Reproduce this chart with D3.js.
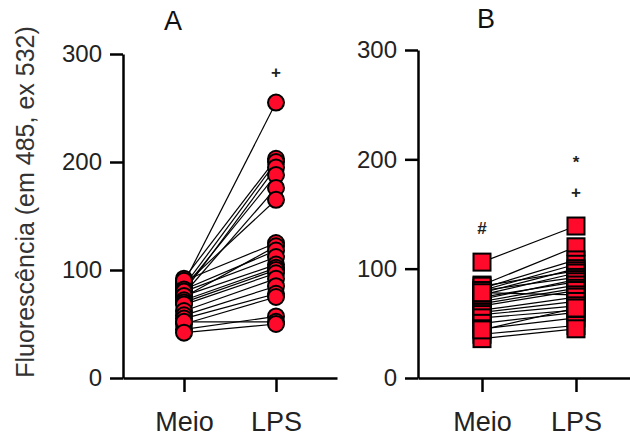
<!DOCTYPE html>
<html><head><meta charset="utf-8">
<script src="https://cdn.jsdelivr.net/npm/d3@7"></script>
<style>
html,body{margin:0;padding:0;background:#fff;}
svg{display:block;font-family:Arial,"Liberation Sans",sans-serif;}
</style></head>
<body>
<svg id="chart" width="630" height="436"></svg>
<script>
const categories = ["Meio", "LPS"];
const yTicks = [0, 100, 200, 300];
const panelTitles = ["A", "B"];
const yLabel = "Fluorescência (em 485, ex 532)";

// Panel A: paired values (Meio, LPS)
const aMeio = [88, 92, 85, 80, 83, 78, 86, 90, 75, 82, 80, 76, 72, 70, 68, 62, 58, 55, 50, 45, 52, 42];
const aLPS  = [255, 203, 200, 195, 188, 176, 165, 125, 122, 118, 112, 105, 102, 100, 97, 92, 85, 78, 75, 57, 52, 50];

// Panel B: paired values (Meio, LPS)
const bMeio = [106, 85, 82, 80, 78, 84, 76, 80, 72, 74, 70, 68, 66, 78, 62, 60, 58, 55, 50, 45, 40, 36, 44];
const bLPS  = [139, 120, 108, 104, 100, 98, 96, 92, 90, 88, 85, 82, 80, 76, 74, 70, 66, 62, 60, 55, 48, 45, 64];

// Annotations: [category, value, symbol]
const aNotes = [["LPS", 283, "+"]];
const bNotes = [["Meio", 137, "#"], ["LPS", 170, "+"], ["LPS", 197, "*"]];

const svg = d3.select("#chart");
const RED = "#ff0a2a";

function panel(cfg) {
  const g = svg.append("g");
  const y = d3.scaleLinear().domain([0, 300]).range([cfg.y0, cfg.y300]);
  const x = d3.scalePoint().domain(categories).range([cfg.xl, cfg.xr]).padding(cfg.pad);

  // y axis
  const ya = g.append("g").attr("transform", `translate(${cfg.xl},0)`)
    .call(d3.axisLeft(y).tickValues(yTicks).tickSize(13).tickSizeOuter(0).tickPadding(8));
  ya.select(".domain").attr("stroke-width", 2.5);
  ya.selectAll(".tick line").attr("stroke-width", 2.5);
  ya.selectAll(".tick text").attr("font-size", 24).attr("fill", "#222").attr("font-family", "Arial,'Liberation Sans',sans-serif");

  // x axis
  const xa = g.append("g").attr("transform", `translate(0,${cfg.y0})`)
    .call(d3.axisBottom(x).tickSize(14).tickSizeOuter(0).tickPadding(20));
  xa.select(".domain").attr("stroke-width", 2.5);
  xa.selectAll(".tick line").attr("stroke-width", 2.5);
  xa.selectAll(".tick text").attr("font-size", 27).attr("fill", "#222").attr("font-family", "Arial,'Liberation Sans',sans-serif");

  // lines
  const pairs = cfg.meio.map((m, i) => [m, cfg.lps[i]]);
  g.append("g").selectAll("line").data(pairs).join("line")
    .attr("x1", x("Meio")).attr("x2", x("LPS"))
    .attr("y1", d => y(d[0])).attr("y2", d => y(d[1]))
    .attr("stroke", "#000").attr("stroke-width", 1.2);

  // markers
  const pts = [];
  categories.forEach(c => (c === "Meio" ? cfg.meio : cfg.lps).forEach(v => pts.push([c, v])));
  const mg = g.append("g");
  if (cfg.shape === "circle") {
    mg.selectAll("circle").data(pts).join("circle")
      .attr("cx", d => x(d[0])).attr("cy", d => y(d[1])).attr("r", 8)
      .attr("fill", RED).attr("stroke", "#000").attr("stroke-width", 2);
  } else {
    const s = 17;
    mg.selectAll("rect").data(pts).join("rect")
      .attr("x", d => x(d[0]) - s / 2).attr("y", d => y(d[1]) - s / 2)
      .attr("width", s).attr("height", s)
      .attr("fill", RED).attr("stroke", "#000").attr("stroke-width", 2);
  }

  // annotations
  g.append("g").selectAll("text").data(cfg.notes).join("text")
    .attr("x", d => x(d[0])).attr("y", d => y(d[1]))
    .attr("text-anchor", "middle").attr("dominant-baseline", "central")
    .attr("font-size", 17).attr("font-weight", "bold").attr("fill", "#222")
    .text(d => d[2]);

  // title
  g.append("text").attr("x", cfg.tx).attr("y", cfg.ty)
    .attr("text-anchor", "middle").attr("font-size", 27).attr("fill", "#111")
    .text(cfg.title);
}

panel({ xl: 123, xr: 337, pad: 0.663, y0: 378, y300: 54, meio: aMeio, lps: aLPS,
        shape: "circle", notes: aNotes, title: panelTitles[0], tx: 173, ty: 30 });
panel({ xl: 418, xr: 640, pad: 0.681, y0: 378, y300: 50, meio: bMeio, lps: bLPS,
        shape: "square", notes: bNotes, title: panelTitles[1], tx: 486, ty: 28 });

svg.append("text")
  .attr("transform", "translate(34,202) rotate(-90)")
  .attr("text-anchor", "middle").attr("font-size", 25).attr("fill", "#333")
  .text(yLabel);
</script>
</body></html>
